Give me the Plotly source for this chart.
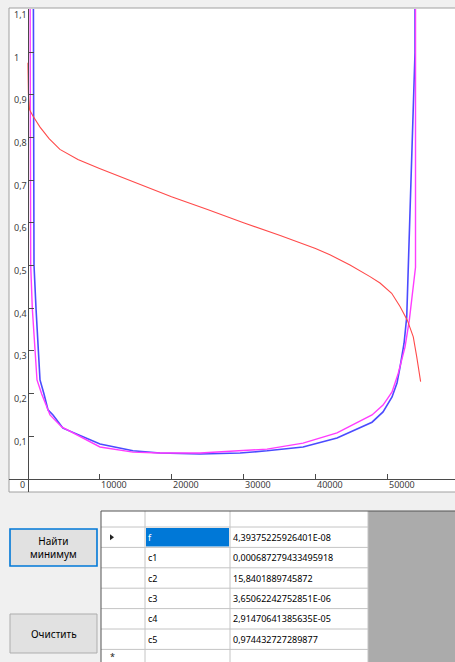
import plotly.graph_objects as go

# ---- chart data -------------------------------------------------------
red_x = [60, 130, 280, 760, 1740, 3000, 4500, 7000, 10000, 12850, 16000, 20000,
         25000, 30000, 35000, 40000, 42000, 44790, 47570, 48960, 50580, 51740,
         52750, 53580, 54050, 54600]
red_y = [0.975, 0.900, 0.865, 0.850, 0.824, 0.797, 0.772, 0.748, 0.727, 0.708,
         0.688, 0.661, 0.631, 0.600, 0.571, 0.540, 0.525, 0.501, 0.474, 0.459,
         0.435, 0.404, 0.372, 0.333, 0.287, 0.228]

blue_x = [800, 800, 903, 1181, 1458, 1736, 2292, 2847, 3542, 4931, 10069, 14650,
          18400, 23960, 29520, 33270, 38270, 42990, 47850, 49380, 50630, 51320,
          51740, 52300, 52670, 52890, 53130, 53360, 53590, 53820, 53820]
blue_y = [1.25, 0.560, 0.501, 0.400, 0.297, 0.232, 0.199, 0.162, 0.150, 0.119,
          0.082, 0.066, 0.061, 0.0585, 0.061, 0.066, 0.075, 0.096, 0.133, 0.157,
          0.192, 0.225, 0.262, 0.318, 0.379, 0.496, 0.653, 0.770, 0.895, 0.998, 1.25]

magenta_x = [347, 347, 444, 667, 1042, 1320, 1972, 3125, 4750, 10069, 14650,
             18400, 23960, 29520, 33270, 38270, 42990, 47850, 49380, 50070,
             50630, 51500, 52430, 53030, 53360, 53890, 53890]
magenta_y = [1.25, 0.560, 0.501, 0.400, 0.297, 0.232, 0.199, 0.150, 0.122, 0.075,
             0.063, 0.061, 0.061, 0.066, 0.070, 0.084, 0.108, 0.150, 0.173, 0.190,
             0.204, 0.248, 0.309, 0.372, 0.419, 0.496, 1.25]

x_ticks = [10000, 20000, 30000, 40000, 50000]
x_tick_labels = ["10000", "20000", "30000", "40000", "50000"]
y_ticks = [0.1, 0.2, 0.3, 0.4, 0.5, 0.6, 0.7, 0.8, 0.9, 1.0, 1.1]
y_tick_labels = ["0,1", "0,2", "0,3", "0,4", "0,5", "0,6", "0,7", "0,8", "0,9", "1", "1,1"]

# ---- result grid data -------------------------------------------------
param_names = ["f", "c1", "c2", "c3", "c4", "c5"]
param_values = ["4,39375225926401E-08", "0,000687279433495918", "15,8401889745872",
                "3,65062242752851E-06", "2,91470641385635E-05", "0,974432727289877"]

# ---- page geometry (pixels) -------------------------------------------
W, H = 455, 662


def px(x):
    return x / W


def py(y):
    return 1 - y / H


# chart panel and axis placement
PANEL_L, PANEL_T, PANEL_R, PANEL_B = 9, 8, 456, 492
ORIGIN_X, ORIGIN_Y = 27.5, 479
X_PX_PER_UNIT = 72 / 10000
Y_PX_PER_UNIT = 427 / 1.0
PLOT_TOP = 9

x_lo = (PANEL_L - ORIGIN_X) / X_PX_PER_UNIT
x_hi = (W - ORIGIN_X) / X_PX_PER_UNIT
y_lo = (ORIGIN_Y - PANEL_B) / Y_PX_PER_UNIT
y_hi = (ORIGIN_Y - PLOT_TOP) / Y_PX_PER_UNIT

AXIS_COLOR = "#4a4a4a"
UI_FONT = "Noto Sans"

fig = go.Figure()
fig.add_trace(go.Scatter(x=blue_x, y=blue_y, mode="lines",
                         line=dict(color="#4b4bff", width=1.6), hoverinfo="skip"))
fig.add_trace(go.Scatter(x=magenta_x, y=magenta_y, mode="lines",
                         line=dict(color="#ff3cff", width=1.4), hoverinfo="skip"))
fig.add_trace(go.Scatter(x=red_x, y=red_y, mode="lines",
                         line=dict(color="#ff4a4a", width=1.1), hoverinfo="skip"))

shapes = []
annotations = []

# chart panel frame
shapes.append(dict(type="rect", xref="paper", yref="paper", layer="below",
                   x0=px(PANEL_L), x1=px(PANEL_R), y0=py(PANEL_B), y1=py(PANEL_T),
                   fillcolor="white", line=dict(color="#a0a0a0", width=1)))

# axis tick labels
for v, t in zip(y_ticks, y_tick_labels):
    annotations.append(dict(x=px(12), xref="paper", y=v, yref="y", yshift=-5,
                            text=t, showarrow=False, xanchor="left", yanchor="middle",
                            font=dict(family=UI_FONT, size=9, color="#404040")))
annotations.append(dict(x=px(26.5), xref="paper", y=py(485), yref="paper",
                        text="0", showarrow=False, xanchor="right", yanchor="middle",
                        font=dict(family=UI_FONT, size=9, color="#404040")))
for v, t in zip(x_ticks, x_tick_labels):
    annotations.append(dict(x=v, xref="x", y=py(485), yref="paper", xshift=-1,
                            text=t, showarrow=False, xanchor="left", yanchor="middle",
                            font=dict(family=UI_FONT, size=9, color="#404040")))

# ---- buttons ----------------------------------------------------------
buttons = [
    dict(top=529, bottom=566, text="Найти<br>минимум", border="#0078d7", bw=1.6),
    dict(top=614, bottom=653, text="Очистить", border="#adadad", bw=1),
]
BTN_L, BTN_R = 10, 97
for b in buttons:
    shapes.append(dict(type="rect", xref="paper", yref="paper",
                       x0=px(BTN_L), x1=px(BTN_R), y0=py(b["bottom"]), y1=py(b["top"]),
                       fillcolor="#e1e1e1", line=dict(color=b["border"], width=b["bw"])))
    annotations.append(dict(x=px((BTN_L + BTN_R) / 2), xref="paper",
                            y=py((b["top"] + b["bottom"]) / 2), yref="paper",
                            text=b["text"], showarrow=False, xanchor="center",
                            yanchor="middle", align="center",
                            font=dict(family=UI_FONT, size=10, color="#000000")))

# ---- result grid ------------------------------------------------------
G_L, G_T = 101, 511
COL_X = [101, 145, 230, 368]
HEADER_H = 16
ROW_H = 20.4
GRID_LINE = "#c4c4c4"

# grey empty area to the right of the columns
shapes.append(dict(type="rect", xref="paper", yref="paper", line=dict(width=0),
                   x0=px(COL_X[-1]), x1=px(W + 1), y0=py(H + 1), y1=py(G_T),
                   fillcolor="#ababab"))
# white cell area
shapes.append(dict(type="rect", xref="paper", yref="paper", line=dict(width=0),
                   x0=px(G_L), x1=px(COL_X[-1]), y0=py(H + 1), y1=py(G_T),
                   fillcolor="white"))

row_tops = [G_T + HEADER_H + i * ROW_H for i in range(len(param_names) + 1)]

# selected cell
shapes.append(dict(type="rect", xref="paper", yref="paper", line=dict(width=0),
                   x0=px(COL_X[1] + 1), x1=px(COL_X[2] - 1),
                   y0=py(row_tops[0] + ROW_H - 1), y1=py(row_tops[0] + 1),
                   fillcolor="#0078d7"))

# horizontal grid lines
for yt in row_tops:
    shapes.append(dict(type="line", xref="paper", yref="paper",
                       x0=px(G_L), x1=px(COL_X[-1]), y0=py(yt), y1=py(yt),
                       line=dict(color=GRID_LINE, width=1)))
# vertical grid lines
for xc in COL_X[1:]:
    shapes.append(dict(type="line", xref="paper", yref="paper",
                       x0=px(xc), x1=px(xc), y0=py(H + 1), y1=py(G_T),
                       line=dict(color=GRID_LINE, width=1)))
# outer border
shapes.append(dict(type="line", xref="paper", yref="paper",
                   x0=px(G_L), x1=px(W + 1), y0=py(G_T), y1=py(G_T),
                   line=dict(color="#555555", width=1)))
shapes.append(dict(type="line", xref="paper", yref="paper",
                   x0=px(G_L), x1=px(G_L), y0=py(H + 1), y1=py(G_T),
                   line=dict(color="#555555", width=1)))

# current-row marker
r0 = row_tops[0] + ROW_H / 2
shapes.append(dict(type="path", xref="paper", yref="paper", line=dict(width=0),
                   fillcolor="#222222",
                   path=f"M {px(110)} {py(r0 - 3)} L {px(110)} {py(r0 + 3)} "
                        f"L {px(114)} {py(r0)} Z"))
# new-row marker
annotations.append(dict(x=px(112), xref="paper", y=py(row_tops[-1] + 7),
                        yref="paper", text="*", showarrow=False, xanchor="center",
                        yanchor="middle", font=dict(family=UI_FONT, size=9, color="#222")))

for i, (name, val) in enumerate(zip(param_names, param_values)):
    yc = py(row_tops[i] + ROW_H / 2)
    annotations.append(dict(x=px(COL_X[1] + 1), xref="paper", y=yc, yref="paper",
                            text=name, showarrow=False, xanchor="left", yanchor="middle",
                            font=dict(family=UI_FONT, size=9,
                                      color="white" if i == 0 else "#000000")))
    annotations.append(dict(x=px(COL_X[2] + 1), xref="paper", y=yc, yref="paper",
                            text=val, showarrow=False, xanchor="left", yanchor="middle",
                            font=dict(family=UI_FONT, size=9, color="#000000")))

fig.update_layout(
    width=W, height=H,
    margin=dict(l=0, r=0, t=0, b=0),
    paper_bgcolor="#f0f0f0",
    plot_bgcolor="white",
    showlegend=False,
    shapes=shapes,
    annotations=annotations,
    xaxis=dict(domain=[px(PANEL_L), 1], range=[x_lo, x_hi],
               anchor="free", position=py(ORIGIN_Y),
               showline=True, linecolor=AXIS_COLOR, linewidth=1,
               ticks="inside", ticklen=5, tickcolor=AXIS_COLOR, tickwidth=1,
               tickvals=x_ticks, showticklabels=False,
               showgrid=False, zeroline=False, fixedrange=True),
    yaxis=dict(domain=[py(PANEL_B), py(PLOT_TOP)], range=[y_lo, y_hi],
               anchor="free", position=px(ORIGIN_X),
               showline=True, linecolor=AXIS_COLOR, linewidth=1,
               ticks="inside", ticklen=5, tickcolor=AXIS_COLOR, tickwidth=1,
               tickvals=y_ticks, showticklabels=False,
               showgrid=False, zeroline=False, fixedrange=True),
)

fig.write_html("out.html", config={"displayModeBar": False})
